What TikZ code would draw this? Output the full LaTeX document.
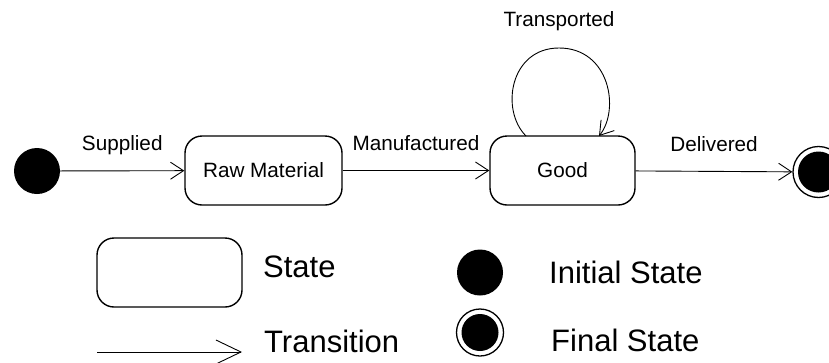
\documentclass[tikz,border=0pt]{standalone}
\usepackage{fontspec}
\setmainfont{Liberation Sans}
\usetikzlibrary{arrows.meta}

\begin{document}
\begin{tikzpicture}[x=1pt, y=-1pt,
  every node/.style={font=\fontsize{20.7}{25}\selectfont},
  statebox/.style={draw, line width=1.4pt, rounded corners=17pt,
    minimum height=69pt, inner sep=0pt},
  startdot/.style={circle, fill=black, minimum size=46pt, inner sep=0pt},
  enddot/.style={circle, draw, fill=white, line width=1.3pt, inner sep=0pt,
    minimum size=#1,
    path picture={\fill[black] (path picture bounding box.center) circle (0.5*#1-5pt);}},
  trans/.style={line width=0.9pt, -{Straight Barb[length=13pt, width=17pt, line width=0.9pt]}},
  lbl/.style={midway, above=17.4pt, inner sep=0pt, text height=0.72em, text depth=0.22em},
  legendtext/.style={font=\fontsize{31}{36}\selectfont, anchor=base west, inner sep=0pt}
]
\useasboundingbox (0,0) rectangle (829,362);

% states of the lifecycle
\node[startdot] (init) at (37,171) {};
\node[statebox, minimum width=157pt] (raw) at (263.5,170.5) {Raw Material};
\node[statebox, minimum width=145pt] (good) at (562.5,170.5) {Good};
\node[enddot=51pt] (final) at (818.5,172) {};

% transitions
\draw[trans] (init) -- node[lbl] {Supplied} (raw);
\draw[trans] (raw) -- node[lbl] {Manufactured} (good);
\draw[trans] (good) -- node[lbl] {Delivered} (final);

% self transition on Good
\coordinate (loopA) at (526,136);
\coordinate (loopB) at (599,136);
\draw[trans] (loopA) .. controls (500,110) and (510,48) .. (559,48)
                      .. controls (610,48) and (620,110) .. (loopB);
\node[anchor=base, inner sep=0pt] (transported) at (559,26) {Transported};

% legend
\node[statebox, minimum width=145pt] (lstate) at (169.5,272.5) {};
\node[legendtext] (lstatetxt) at (263,277) {State};

\coordinate (lt0) at (97,352);
\coordinate (lt1) at (242,352);
\draw[line width=0.9pt, -{Straight Barb[length=25pt, width=24pt, line width=0.9pt]}] (lt0) -- (lt1);
\node[legendtext] (ltranstxt) at (264,352) {Transition};

\node[startdot] (linit) at (480,272.5) {};
\node[legendtext] (linittxt) at (549,283) {Initial State};

\node[enddot=47pt] (lfinal) at (480,332.5) {};
\node[legendtext] (lfinaltxt) at (551,351) {Final State};
\end{tikzpicture}
\end{document}
